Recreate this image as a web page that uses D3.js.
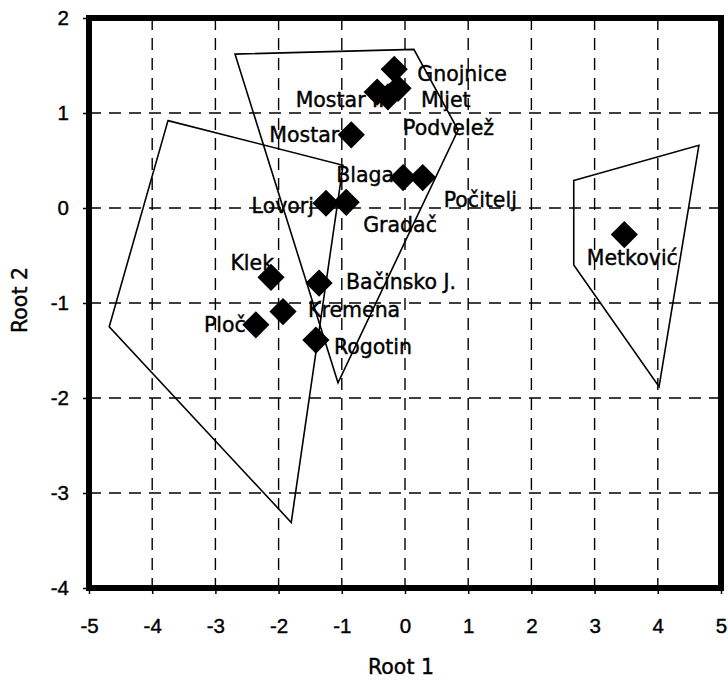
<!DOCTYPE html>
<html>
<head>
<meta charset="utf-8">
<script src="https://cdn.jsdelivr.net/npm/d3@7"></script>
<style>
  html, body { margin: 0; padding: 0; background: #fff; }
  svg { display: block; font-family: 'DejaVu Sans', Verdana, sans-serif; }
</style>
</head>
<body>
<div id="chart"></div>
<script>
// site names with their discriminant scores
const sites = ['Gnojnice', 'Mostar II', 'Mljet', 'Podvelež', 'Mostar', 'Blaga', 'Počitelj',
    'Lovorj', 'Gradač', 'Klek', 'Bačinsko J.', 'Kremena', 'Ploč', 'Rogotin', 'Metković'];
const root1 = [-0.17, -0.44, -0.27, -0.11, -0.85, -0.03, 0.28,
    -1.25, -0.93, -2.12, -1.36, -1.93, -2.36, -1.41, 3.47];
const root2 = [1.46, 1.22, 1.17, 1.26, 0.77, 0.32, 0.32,
    0.05, 0.06, -0.73, -0.79, -1.09, -1.23, -1.39, -0.28];

// group hulls (Root 1, Root 2)
const hullLeft = [[-3.75, 0.92], [-0.98, 0.45], [-1.80, -3.31], [-4.68, -1.25]];
const hullMiddle = [[-2.69, 1.62], [0.14, 1.67], [0.84, 0.82], [-1.06, -1.84]];
const hullRight = [[2.67, 0.29], [4.65, 0.66], [4.02, -1.88], [2.67, -0.60]];

const xTicks = [-5, -4, -3, -2, -1, 0, 1, 2, 3, 4, 5];
const yTicks = [-4, -3, -2, -1, 0, 1, 2];

// label placement relative to each marker: [dx, dy, anchor]
const labelPlace = [
    [23, 4, 'start'], [7, 8, 'end'], [33, 3, 'start'], [5, 39, 'start'],
    [-12, 0, 'end'], [-9, -3, 'end'], [21, 22, 'start'], [-12, 2, 'end'],
    [17, 22, 'start'], [3, -15, 'end'], [27, -1, 'start'], [25, -2, 'start'],
    [-10, 0, 'end'], [18, 7, 'start'], [8, 23, 'middle']
];

const width = 728;
const height = 681;

const svg = d3.select('#chart')
    .append('svg')
    .attr('width', width)
    .attr('height', height);

const x = d3.scaleLinear().domain([-5, 5]).range([89, 721]);
const y = d3.scaleLinear().domain([-4, 2]).range([588, 18]);

// dashed grid
const grid = svg.append('g')
    .attr('stroke', '#000')
    .attr('stroke-width', 1.4)
    .attr('stroke-dasharray', '12,8');

grid.selectAll('line.v')
    .data(xTicks.slice(1, -1))
    .enter()
    .append('line')
    .attr('x1', d => x(d)).attr('x2', d => x(d))
    .attr('y1', y(2)).attr('y2', y(-4));

grid.selectAll('line.h')
    .data(yTicks.slice(1, -1))
    .enter()
    .append('line')
    .attr('x1', x(-5)).attr('x2', x(5))
    .attr('y1', d => y(d)).attr('y2', d => y(d));

// hulls
const line = d3.line().x(d => x(d[0])).y(d => y(d[1]));
svg.append('g')
    .selectAll('path')
    .data([hullLeft, hullMiddle, hullRight])
    .enter()
    .append('path')
    .attr('d', d => line(d) + 'Z')
    .attr('fill', 'none')
    .attr('stroke', '#000')
    .attr('stroke-width', 1.6);

// axes
const fmt = d => String(d);
const xAxis = svg.append('g')
    .attr('transform', `translate(0,${y(-4)})`)
    .call(d3.axisBottom(x).tickValues(xTicks).tickSize(6).tickPadding(24).tickFormat(fmt));
const yAxis = svg.append('g')
    .attr('transform', `translate(${x(-5)},0)`)
    .call(d3.axisLeft(y).tickValues(yTicks).tickSize(6).tickPadding(14).tickFormat(fmt));

[xAxis, yAxis].forEach(a => {
    a.select('.domain').remove();
    a.selectAll('line').attr('stroke', '#000').attr('stroke-width', 1.5);
    a.selectAll('text')
        .attr('fill', '#000')
        .attr('stroke', '#000')
        .attr('stroke-width', 0.4)
        .attr('font-size', 20.5)
        .attr('font-family', null);
});

// frame
svg.append('rect')
    .attr('x', x(-5)).attr('y', y(2))
    .attr('width', x(5) - x(-5))
    .attr('height', y(-4) - y(2))
    .attr('fill', 'none')
    .attr('stroke', '#000')
    .attr('stroke-width', 6);

// labels
const idx = d3.range(sites.length);
svg.append('g')
    .attr('stroke', '#000')
    .attr('stroke-width', 0.4)
    .selectAll('text')
    .data(idx)
    .enter()
    .append('text')
    .attr('x', i => x(root1[i]) + labelPlace[i][0])
    .attr('y', i => y(root2[i]) + labelPlace[i][1])
    .attr('dy', '0.36em')
    .attr('text-anchor', i => labelPlace[i][2])
    .attr('font-size', 20.5)
    .attr('fill', '#000')
    .text(i => sites[i]);

// diamond markers
const diamond = d3.symbol().type(d3.symbolSquare).size(370);
svg.append('g')
    .selectAll('path')
    .data(idx)
    .enter()
    .append('path')
    .attr('d', diamond)
    .attr('transform', i => `translate(${x(root1[i])},${y(root2[i])}) rotate(45)`)
    .attr('fill', '#000');

// axis titles
svg.append('text')
    .attr('x', 401).attr('y', 667)
    .attr('dy', '0.36em')
    .attr('text-anchor', 'middle')
    .attr('font-size', 20.5)
    .attr('stroke', '#000')
    .attr('stroke-width', 0.4)
    .text('Root 1');

svg.append('text')
    .attr('transform', 'translate(20,300) rotate(-90)')
    .attr('dy', '0.36em')
    .attr('text-anchor', 'middle')
    .attr('font-size', 20.5)
    .attr('stroke', '#000')
    .attr('stroke-width', 0.4)
    .text('Root 2');
</script>
</body>
</html>
